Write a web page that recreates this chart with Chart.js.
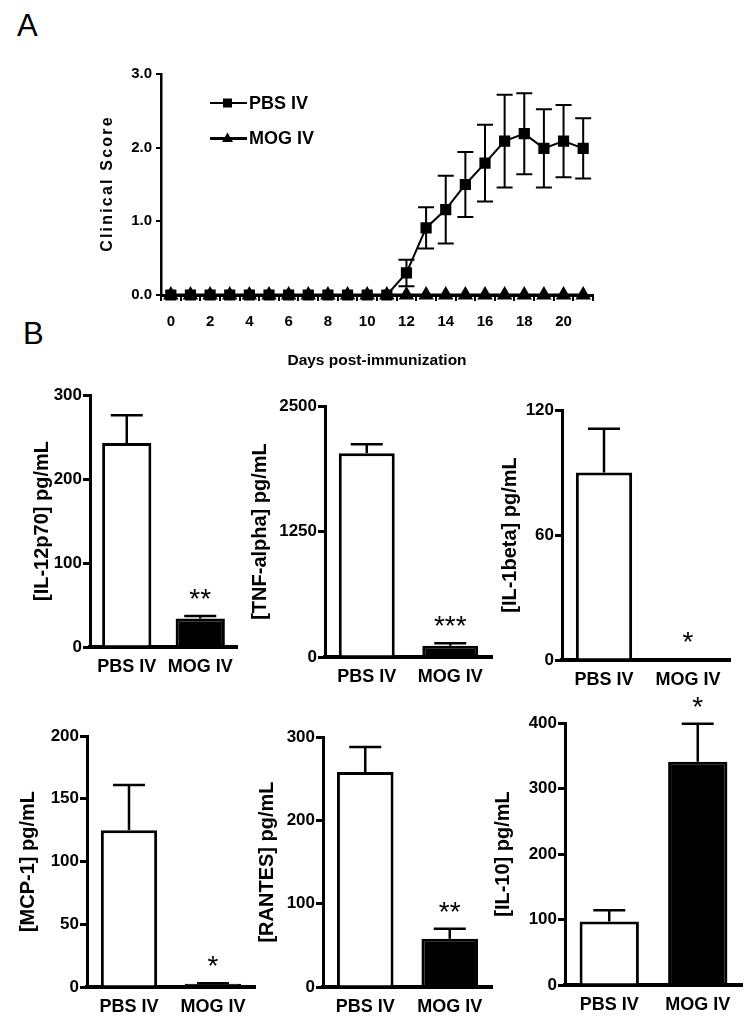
<!DOCTYPE html>
<html>
<head>
<meta charset="utf-8">
<title>EAE clinical score and cytokines</title>
<script src="https://cdn.jsdelivr.net/npm/chart.js@4.4.1/dist/chart.umd.min.js"></script>
<style>
  body { margin: 0; width: 756px; height: 1029px; position: relative; overflow: hidden; background: #fff;
         font-family: 'Liberation Sans', Arial, sans-serif; }
  .letter { position: absolute; font-size: 31px; line-height: 1; color: #000; }
  canvas { position: absolute; }
</style>
</head>
<body>
<div class="letter" style="left:17px; top:10px;">A</div>
<div class="letter" style="left:23px; top:318px;">B</div>

<canvas id="scoreChart" width="520" height="320" style="left:90px; top:50px;"></canvas>
<canvas id="il12Chart"></canvas>
<canvas id="tnfChart"></canvas>
<canvas id="il1bChart"></canvas>
<canvas id="mcp1Chart"></canvas>
<canvas id="rantesChart"></canvas>
<canvas id="il10Chart"></canvas>

<script>
// ---- panel A data ----
const days      = ['0','1','2','3','4','5','6','7','8','9','10','11','12','13','14','15','16','17','18','19','20','21'];
const pbsScore  = [0,0,0,0,0,0,0,0,0,0,0,0, 0.30,0.91,1.16,1.50,1.79,2.09,2.19,1.99,2.09,1.99];
const pbsSem    = [0,0,0,0,0,0,0,0,0,0,0,0, 0.18,0.28,0.46,0.44,0.52,0.63,0.55,0.53,0.49,0.41];
const mogScore  = [0,0,0,0,0,0,0,0,0,0,0,0, 0,0,0,0,0,0,0,0,0,0];
const scoreTicks = [0, 1, 2, 3];

// ---- panel B data ----
const groups = ['PBS IV', 'MOG IV'];

const il12Means   = [243, 34];   const il12Errors   = [33, 3];    const il12Stars   = ['', '**'];
const tnfMeans    = [2030, 112]; const tnfErrors    = [90, 25];   const tnfStars    = ['', '***'];
const il1bMeans   = [90, 0.5];   const il1bErrors   = [21, 0];    const il1bStars   = ['', '*'];
const mcp1Means   = [125, 2.5];  const mcp1Errors   = [36, 0.5];  const mcp1Stars   = ['', '*'];
const rantesMeans = [258, 58];   const rantesErrors = [30, 12];   const rantesStars = ['', '**'];
const il10Means   = [97, 341];   const il10Errors   = [17, 58];   const il10Stars   = ['', '*'];

const il12Ticks   = [0, 100, 200, 300];
const tnfTicks    = [0, 1250, 2500];
const il1bTicks   = [0, 60, 120];
const mcp1Ticks   = [0, 50, 100, 150, 200];
const rantesTicks = [0, 100, 200, 300];
const il10Ticks   = [0, 100, 200, 300, 400];

const SANS = "'Liberation Sans', Arial, sans-serif";

Chart.defaults.font.family = SANS;
Chart.defaults.color = '#000';
Chart.defaults.animation = false;

// error bars for the clinical score (both directions)
const scoreErrorBars = {
  id: 'scoreErrorBars',
  afterDatasetsDraw(chart) {
    const { ctx, scales: { x, y } } = chart;
    ctx.save();
    ctx.strokeStyle = '#000';
    ctx.lineWidth = 2;
    pbsScore.forEach((v, i) => {
      if (!pbsSem[i]) return;
      const px = x.getPixelForValue(i);
      const hi = y.getPixelForValue(v + pbsSem[i]);
      const lo = y.getPixelForValue(v - pbsSem[i]);
      ctx.beginPath();
      ctx.moveTo(px, lo); ctx.lineTo(px, hi);
      ctx.moveTo(px - 8, hi); ctx.lineTo(px + 8, hi);
      ctx.moveTo(px - 8, lo); ctx.lineTo(px + 8, lo);
      ctx.stroke();
    });
    ctx.restore();
  }
};

// legend with line + marker sample, and the letter-spaced y title
const scoreLegend = {
  id: 'scoreLegend',
  afterDraw(chart) {
    const { ctx, chartArea } = chart;
    ctx.save();
    chart.data.datasets.forEach((ds, i) => {
      const y = 53 + i * 35.5;
      ctx.strokeStyle = '#000';
      ctx.fillStyle = '#000';
      ctx.lineWidth = ds.borderWidth;
      ctx.beginPath();
      ctx.moveTo(120, y); ctx.lineTo(157, y);
      ctx.stroke();
      ctx.beginPath();
      if (ds.pointStyle === 'rect') {
        ctx.rect(133, y - 4.5, 9, 9);
      } else {
        ctx.moveTo(137.5, y - 6); ctx.lineTo(143, y + 3.5); ctx.lineTo(132, y + 3.5); ctx.closePath();
      }
      ctx.fill();
      ctx.font = 'bold 18px ' + SANS;
      ctx.textAlign = 'left';
      ctx.textBaseline = 'middle';
      ctx.fillText(ds.label, 159, y + 1);
    });

    ctx.translate(18, (chartArea.top + chartArea.bottom) / 2);
    ctx.rotate(-Math.PI / 2);
    ctx.font = 'bold 16px ' + SANS;
    ctx.letterSpacing = '2.2px';
    ctx.textAlign = 'center';
    ctx.textBaseline = 'middle';
    ctx.fillText('Clinical Score', 1, 0);
    ctx.restore();
  }
};

new Chart(document.getElementById('scoreChart'), {
  type: 'line',
  data: {
    labels: days,
    datasets: [
      { label: 'PBS IV', data: pbsScore, borderColor: '#000', borderWidth: 2, tension: 0,
        pointStyle: 'rect', pointRadius: 6.5, pointBackgroundColor: '#000', pointBorderColor: '#000', clip: false },
      { label: 'MOG IV', data: mogScore, borderColor: '#000', borderWidth: 3, tension: 0,
        pointStyle: 'triangle', pointRadius: 6, pointBackgroundColor: '#000', pointBorderColor: '#000', clip: false }
    ]
  },
  options: {
    responsive: false,
    layout: { padding: { top: 24, right: 17, left: 0, bottom: 0 } },
    plugins: { legend: { display: false }, tooltip: { enabled: false } },
    scales: {
      x: {
        type: 'category',
        offset: true,
        afterFit: s => { s.height = 75; },
        grid: { offset: true, drawOnChartArea: false, drawTicks: true, tickLength: 6, lineWidth: 2, color: '#000' },
        border: { display: true, width: 3, color: '#000' },
        ticks: { autoSkip: false, maxRotation: 0, padding: 12, font: { size: 15, weight: 'bold' },
                 callback: (v, i) => (i % 2 === 0 ? days[i] : '') },
        title: { display: true, text: 'Days post-immunization', padding: { top: 0, bottom: 0 },
                 font: { size: 15.5, weight: 'bold' } }
      },
      y: {
        min: 0, max: 3,
        afterFit: s => { s.width = 71; },
        afterBuildTicks: s => { s.ticks = scoreTicks.map(v => ({ value: v })); },
        grid: { drawOnChartArea: false, drawTicks: true, tickLength: 5, lineWidth: 2, color: '#000' },
        border: { display: true, width: 2.5, color: '#000' },
        ticks: { padding: 4, font: { size: 15, weight: 'bold' }, callback: v => v.toFixed(1) }
      }
    }
  },
  plugins: [scoreErrorBars, scoreLegend]
});

// upper error bars + significance stars for the cytokine bars
function barExtras(means, errors, stars) {
  return {
    id: 'barExtras',
    afterDatasetsDraw(chart) {
      const { ctx, scales: { x, y } } = chart;
      ctx.save();
      ctx.strokeStyle = '#000';
      ctx.fillStyle = '#000';
      ctx.lineWidth = 2.5;
      means.forEach((m, i) => {
        const px = x.getPixelForValue(i);
        const top = y.getPixelForValue(m + errors[i]);
        if (errors[i] > 0) {
          ctx.beginPath();
          ctx.moveTo(px, y.getPixelForValue(m));
          ctx.lineTo(px, top);
          ctx.moveTo(px - 16, top);
          ctx.lineTo(px + 16, top);
          ctx.stroke();
        }
        if (stars[i]) {
          ctx.font = '28px ' + SANS;
          ctx.textAlign = 'center';
          ctx.textBaseline = 'alphabetic';
          ctx.fillText(stars[i], px, top - 24 + 16);
        }
      });
      ctx.restore();
    }
  };
}

function barPanel(id, area, titleX, yTitle, tickValues, means, errors, stars) {
  const canvas = document.getElementById(id);
  const padTop = 40, padRight = 8, xHeight = 40, titleLh = 24;
  const left = titleX - titleLh / 2;
  canvas.width = area.r + padRight - left;
  canvas.height = area.b + xHeight - (area.t - padTop);
  canvas.style.left = left + 'px';
  canvas.style.top = (area.t - padTop) + 'px';

  new Chart(canvas, {
    type: 'bar',
    data: {
      labels: groups,
      datasets: [{
        data: means,
        backgroundColor: ['#fff', '#000'],
        borderColor: '#000',
        borderWidth: 3,
        barPercentage: 0.67,
        categoryPercentage: 1
      }]
    },
    options: {
      responsive: false,
      layout: { padding: { top: padTop, right: padRight, left: 0, bottom: 0 } },
      plugins: { legend: { display: false }, tooltip: { enabled: false } },
      scales: {
        x: {
          afterFit: s => { s.height = xHeight; },
          grid: { display: false, drawTicks: false },
          border: { display: true, width: 4, color: '#000' },
          ticks: { padding: 9, font: { size: 18, weight: 'bold' } }
        },
        y: {
          min: 0, max: tickValues[tickValues.length - 1],
          afterFit: s => { s.width = area.l - left; },
          afterBuildTicks: s => { s.ticks = tickValues.map(v => ({ value: v })); },
          grid: { drawOnChartArea: false, drawTicks: true, tickLength: 7, lineWidth: 3, color: '#000' },
          border: { display: true, width: 3, color: '#000' },
          ticks: { padding: 1, font: { size: 17, weight: 'bold' }, callback: v => String(v) },
          title: { display: true, text: yTitle, padding: { top: 0, bottom: 0 },
                   font: { size: 20, weight: 'bold' } }
        }
      }
    },
    plugins: [barExtras(means, errors, stars)]
  });
}

barPanel('il12Chart',   { l: 90,  r: 237, t: 395, b: 647 }, 42,  '[IL-12p70] pg/mL',  il12Ticks,   il12Means,   il12Errors,   il12Stars);
barPanel('tnfChart',    { l: 325, r: 492, t: 406, b: 657 }, 260, '[TNF-alpha] pg/mL', tnfTicks,    tnfMeans,    tnfErrors,    tnfStars);
barPanel('il1bChart',   { l: 562, r: 730, t: 410, b: 660 }, 510, '[IL-1beta] pg/mL',  il1bTicks,   il1bMeans,   il1bErrors,   il1bStars);
barPanel('mcp1Chart',   { l: 87,  r: 255, t: 736, b: 987 }, 28,  '[MCP-1] pg/mL',     mcp1Ticks,   mcp1Means,   mcp1Errors,   mcp1Stars);
barPanel('rantesChart', { l: 323, r: 492, t: 737, b: 987 }, 267, '[RANTES] pg/mL',    rantesTicks, rantesMeans, rantesErrors, rantesStars);
barPanel('il10Chart',   { l: 565, r: 742, t: 723, b: 985 }, 503, '[IL-10] pg/mL',     il10Ticks,   il10Means,   il10Errors,   il10Stars);
</script>
</body>
</html>
